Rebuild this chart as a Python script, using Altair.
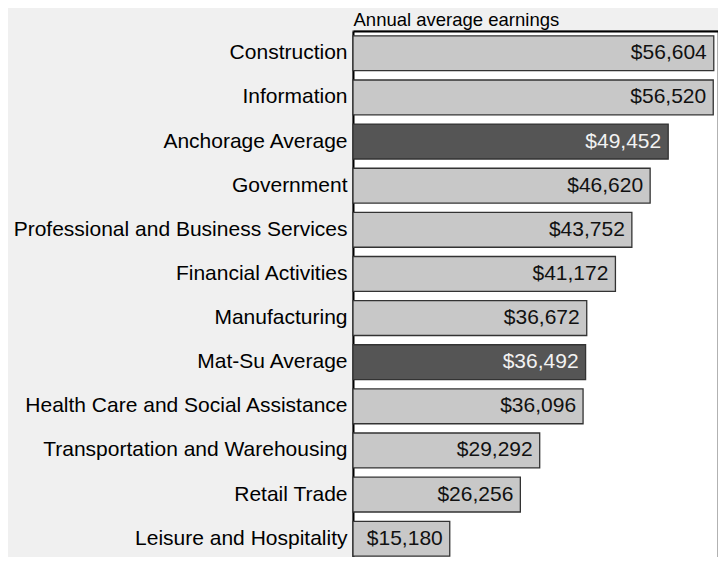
import altair as alt
import pandas as pd

categories = [
    "Construction", "Information", "Anchorage Average", "Government",
    "Professional and Business Services", "Financial Activities", "Manufacturing",
    "Mat-Su Average", "Health Care and Social Assistance",
    "Transportation and Warehousing", "Retail Trade", "Leisure and Hospitality",
]
earnings = [56604, 56520, 49452, 46620, 43752, 41172, 36672, 36492, 36096, 29292, 26256, 15180]
is_average = [False, False, True, False, False, False, False, True, False, False, False, False]

df = pd.DataFrame({
    "category": categories,
    "earnings": earnings,
    "kind": ["avg" if a else "ind" for a in is_average],
})

FONT = "Liberation Sans"

x = alt.X(
    "earnings:Q",
    scale=alt.Scale(domain=[0, 57266], nice=False, zero=True),
    axis=alt.Axis(
        orient="top", labels=False, ticks=False, grid=False,
        domain=True, domainColor="#000000", domainWidth=2,
        title="Annual average earnings", titleFont=FONT, titleFontSize=18.5,
        titleFontWeight="normal", titleColor="#000000",
        titleAlign="left", titleAnchor="start", titleBaseline="alphabetic",
        titleX=0, titleY=-6,
    ),
)
y = alt.Y(
    "category:N", sort=None,
    scale=alt.Scale(paddingInner=0.21, paddingOuter=0.11),
    axis=alt.Axis(
        title=None, ticks=False, domain=True, domainColor="#000000", domainWidth=2,
        labelFont=FONT, labelFontSize=21, labelColor="#000000", labelPadding=6,
        labelLimit=400,
    ),
)

bars = alt.Chart(df).mark_bar(stroke="#333333", strokeWidth=1.3).encode(
    x=x, y=y,
    fill=alt.Fill("kind:N", scale=alt.Scale(domain=["ind", "avg"], range=["#c8c8c8", "#555555"]), legend=None),
)
labels = alt.Chart(df).mark_text(align="right", baseline="middle", dx=-7, font=FONT, fontSize=21).encode(
    x=alt.X("earnings:Q"), y=alt.Y("category:N", sort=None),
    text=alt.Text("earnings:Q", format="$,"),
    color=alt.Color("kind:N", scale=alt.Scale(domain=["ind", "avg"], range=["#111111", "#f2f2f2"]), legend=None),
)

chart = (bars + labels).properties(
    width=365, height=530,
    autosize=alt.AutoSizeParams(type="none"),
    padding={"left": 345, "top": 23, "right": 0, "bottom": -4},
    background="#f0f0f0",
).configure_view(fill="#ffffff", stroke="#999999", strokeWidth=1.5)

chart.save("out.html", embed_options={"renderer": "svg", "actions": False})
